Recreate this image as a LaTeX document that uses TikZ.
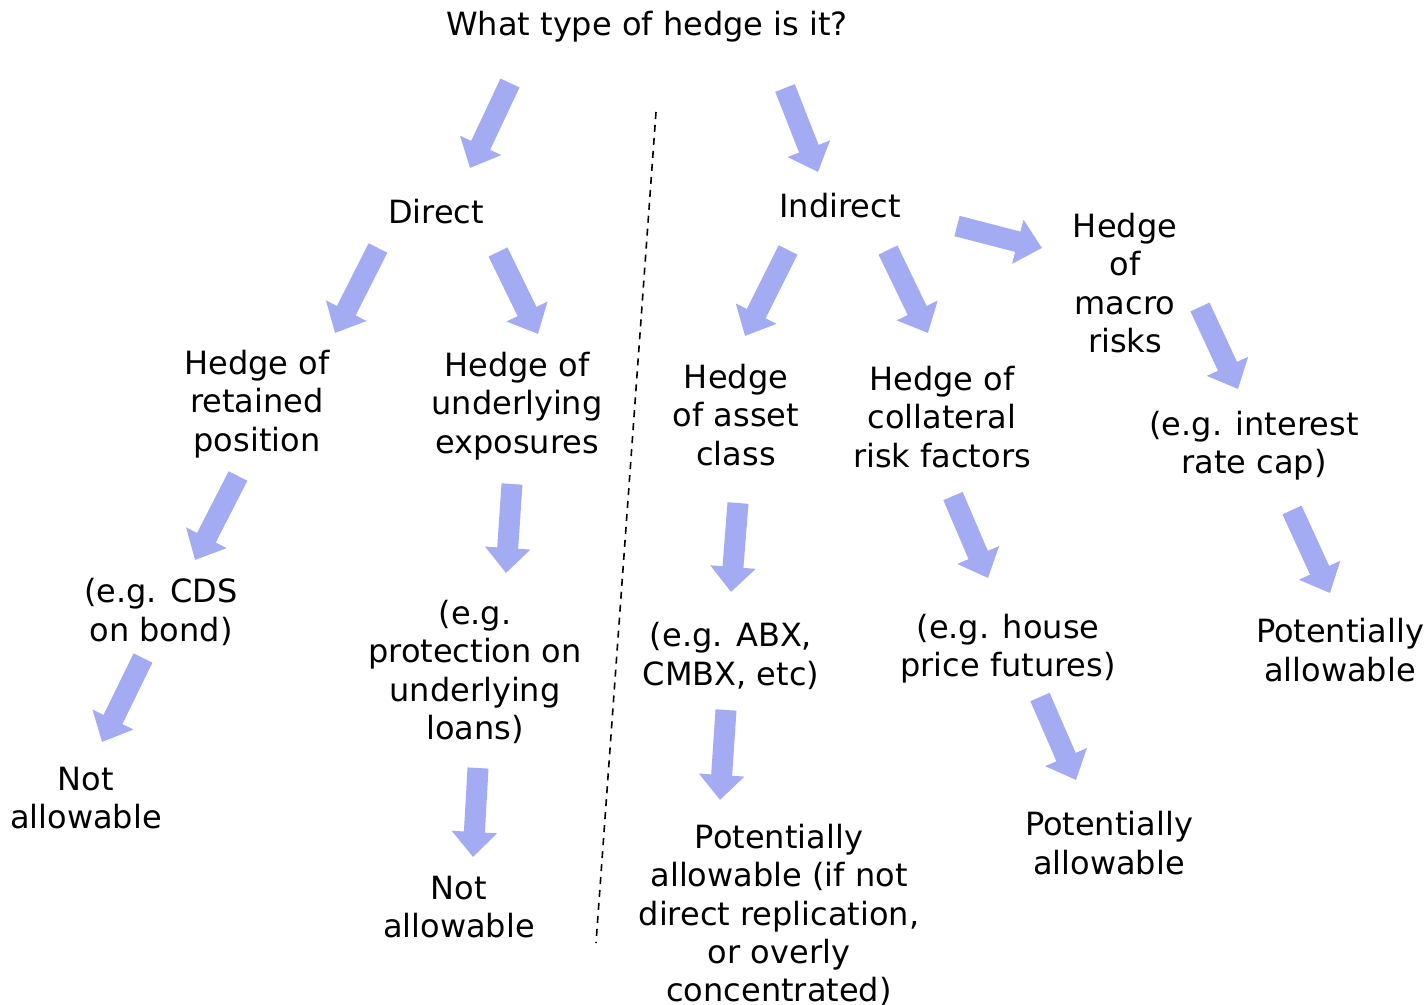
\documentclass[tikz,border=0pt]{standalone}
\usepackage{fontspec}
\setmainfont{DejaVu Sans}
\usetikzlibrary{arrows.meta}
\definecolor{arrowblue}{HTML}{A3ABF3}
\tikzset{
  lbl/.style={align=center,inner sep=0pt,font=\fontsize{32}{38.3}\selectfont},
  barrow/.style={draw=arrowblue,line width=21pt,-{Triangle[length=25pt,width=44pt]},fill=arrowblue},
  sep/.style={draw=black,line width=1.6pt,dash pattern=on 7pt off 6pt}
}
\begin{document}
\begin{tikzpicture}[x=1pt,y=-1pt]
\useasboundingbox (0,0) rectangle (1427,1004);
% labels
\node[lbl] (q) at (647,27) {What type of hedge is it?};
\node[lbl] (dir) at (436,212) {Direct};
\node[lbl] (ind) at (840,206) {Indirect};
\node[lbl] (macro) at (1125,283) {Hedge\\of\\macro\\risks};
\node[lbl] (ret) at (257,404) {Hedge of\\retained\\position};
\node[lbl] (und) at (517,406) {Hedge of\\underlying\\exposures};
\node[lbl] (ass) at (736,415) {Hedge\\of asset\\class};
\node[lbl] (col) at (942,417) {Hedge of\\collateral\\risk factors};
\node[lbl] (irc) at (1254,446) {(e.g. interest\\rate cap)};
\node[lbl] (cds) at (161,612) {(e.g. CDS\\on bond)};
\node[lbl] (prot) at (475,672) {(e.g.\\protection on\\underlying\\loans)};
\node[lbl] (abx) at (731,656) {(e.g. ABX,\\CMBX, etc)};
\node[lbl] (hpf) at (1008,649) {(e.g. house\\price futures)};
\node[lbl] (pa1) at (1340,650) {Potentially\\allowable};
\node[lbl] (na1) at (86,798) {Not\\allowable};
\node[lbl] (na2) at (459,907) {Not\\allowable};
\node[lbl] (pa2) at (779,915) {Potentially\\allowable (if not\\direct replication,\\or overly\\concentrated)};
\node[lbl] (pa3) at (1109,843) {Potentially\\allowable};
% arrow end points
\coordinate (a1s) at (510,83);   \coordinate (a1e) at (470,168);
\coordinate (a2s) at (785,88);   \coordinate (a2e) at (818,172);
\coordinate (a3s) at (378,248);  \coordinate (a3e) at (335,333);
\coordinate (a4s) at (498,252);  \coordinate (a4e) at (538,334);
\coordinate (a5s) at (788,250);  \coordinate (a5e) at (745,336);
\coordinate (a6s) at (888,250);  \coordinate (a6e) at (928,333);
\coordinate (a7s) at (957,226);  \coordinate (a7e) at (1042,248);
\coordinate (a8s) at (238,476);  \coordinate (a8e) at (195,560);
\coordinate (a9s) at (512,484);  \coordinate (a9e) at (506,573);
\coordinate (a10s) at (738,503); \coordinate (a10e) at (731,592);
\coordinate (a11s) at (953,496); \coordinate (a11e) at (988,578);
\coordinate (a12s) at (1200,307);\coordinate (a12e) at (1238,389);
\coordinate (a13s) at (1292,510);\coordinate (a13e) at (1330,593);
\coordinate (a14s) at (143,658); \coordinate (a14e) at (102,742);
\coordinate (a15s) at (478,768); \coordinate (a15e) at (473,857);
\coordinate (a16s) at (726,710); \coordinate (a16e) at (720,800);
\coordinate (a17s) at (1040,697);\coordinate (a17e) at (1076,780);
\foreach \i in {1,...,17} {\draw[barrow] (a\i s) -- (a\i e);}
% separator
\coordinate (sepT) at (656,112);
\coordinate (sepB) at (596,943);
\draw[sep] (sepT) -- (sepB);
\end{tikzpicture}
\end{document}
